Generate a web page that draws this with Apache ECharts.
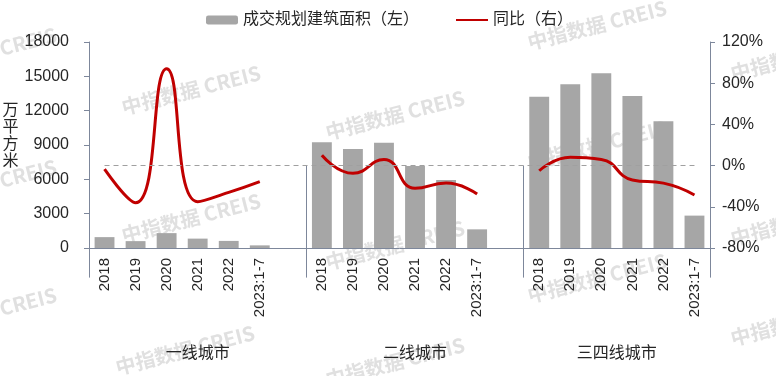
<!DOCTYPE html>
<html lang="zh" style="height: 100%">
<head>
<meta charset="utf-8">
<title>成交规划建筑面积及同比</title>
</head>
<body style="height: 100%; margin: 0; background: #fff">
<div id="container" style="width: 776px; height: 376px"></div>

<script type="text/javascript" src="https://cdn.jsdelivr.net/npm/echarts/dist/echarts.min.js"></script>

<script type="text/javascript">
var years = ['2018', '2019', '2020', '2021', '2022', '2023:1-7'];
var groups = ['一线城市', '二线城市', '三四线城市'];

// 成交规划建筑面积（万平方米）
var area1 = [950, 600, 1300, 820, 620, 230];
var area2 = [9250, 8650, 9200, 7170, 5950, 1630];
var area3 = [13220, 14300, 15270, 13280, 11070, 2830];

// 同比（%）
var yoy1 = [-3.5, -36, 94, -35, -26, -15.5];
var yoy2 = [10, -7.5, 6, -22, -17, -27.5];
var yoy3 = [-5, 8, 6, -14, -17, -28.5];

var leftTicks = { min: 0, max: 18000, step: 3000 };
var rightTicks = { min: -80, max: 120, step: 40 };

// build the category axis with one empty slot after group 1 and group 2
var categories = [].concat(years, [''], years, [''], years);
var areaData = [].concat(area1, [null], area2, [null], area3);
var yoyData = [].concat(yoy1, [null], yoy2, [null], yoy3);
var groupEdges = [0, 7, 14, 20];
var groupCenters = [3.5, 10.5, 17];

var axisColor = '#7d879b';
var textColor = '#262626';
var font = '"Liberation Sans", "Noto Sans CJK SC", sans-serif';

var marks = [
    [-13, 52], [-13, 184], [-13, 312],
    [191, 90], [191, 218], [185, 350],
    [395, 115], [395, 245], [395, 362],
    [597, 25], [597, 145], [597, 278],
    [800, 56], [800, 221], [800, 321]
];

var dom = document.getElementById('container');
var myChart = echarts.init(dom);

var option = {
    animation: false,
    textStyle: { fontFamily: font, color: textColor },
    graphic: marks.map(function (p) {
        return {
            type: 'text',
            x: p[0],
            y: p[1],
            rotation: 0.25,
            z: 0,
            silent: true,
            style: {
                text: '中指数据 CREIS',
                fill: '#e0e0e0',
                font: 'bold 20px "Noto Sans CJK SC", sans-serif',
                align: 'center',
                verticalAlign: 'middle'
            }
        };
    }),
    legend: {
        left: 201,
        top: 7,
        itemWidth: 32,
        itemHeight: 9,
        itemGap: 36,
        textStyle: { fontSize: 16, color: textColor, fontFamily: font },
        data: [
            { name: '成交规划建筑面积（左）' },
            { name: '同比（右）', itemStyle: { opacity: 0 } }
        ]
    },
    grid: { left: 89, right: 66, top: 42, bottom: 128, outerBoundsMode: 'none', containLabel: false },
    xAxis: [
        {
            type: 'category',
            data: categories,
            axisLine: { lineStyle: { color: axisColor, width: 1 } },
            axisTick: { show: false },
            axisLabel: {
                interval: 0,
                rotate: 90,
                margin: 10,
                fontSize: 15,
                color: textColor
            }
        },
        {
            type: 'value',
            position: 'bottom',
            min: 0,
            max: 20,
            axisLine: { show: false },
            splitLine: { show: false },
            axisTick: {
                show: true,
                customValues: groupEdges,
                length: 112,
                lineStyle: { color: axisColor, width: 1 }
            },
            axisLabel: {
                customValues: groupCenters,
                margin: 98,
                fontSize: 16,
                color: textColor,
                formatter: function (v) {
                    return groups[groupCenters.indexOf(v)] || '';
                }
            }
        }
    ],
    yAxis: [
        {
            type: 'value',
            min: leftTicks.min,
            max: leftTicks.max,
            interval: leftTicks.step,
            name: '万\n平\n方\n米\n',
            nameLocation: 'middle',
            nameRotate: 0,
            nameGap: 67,
            nameTextStyle: { fontSize: 16, lineHeight: 17, color: textColor },
            axisLine: { show: true, lineStyle: { color: axisColor } },
            axisTick: { show: true, length: 5, lineStyle: { color: axisColor } },
            axisLabel: {
                fontSize: 16,
                margin: 20,
                color: textColor,
                formatter: function (v) { return String(v); }
            },
            splitLine: { show: false }
        },
        {
            type: 'value',
            min: rightTicks.min,
            max: rightTicks.max,
            interval: rightTicks.step,
            position: 'right',
            axisLine: { show: true, lineStyle: { color: axisColor } },
            axisTick: { show: true, length: 5, lineStyle: { color: axisColor } },
            axisLabel: { fontSize: 16, margin: 12, color: textColor, formatter: '{value}%' },
            splitLine: { show: false }
        }
    ],
    series: [
        {
            name: '成交规划建筑面积（左）',
            type: 'bar',
            xAxisIndex: 0,
            yAxisIndex: 0,
            barWidth: '64%',
            itemStyle: { color: '#a6a6a6' },
            data: areaData,
            z: 2
        },
        {
            name: '同比（右）',
            type: 'line',
            xAxisIndex: 0,
            yAxisIndex: 1,
            smooth: 0.5,
            symbol: 'none',
            connectNulls: false,
            lineStyle: { color: '#c00000', width: 3 },
            itemStyle: { color: '#c00000' },
            data: yoyData,
            z: 4,
            markLine: {
                silent: true,
                symbol: 'none',
                label: { show: false },
                lineStyle: { color: '#a0a0a0', type: [5, 4], width: 1 },
                data: [[
                    { xAxis: 0, yAxis: 0 },
                    { xAxis: categories.length - 1, yAxis: 0 }
                ]]
            }
        }
    ]
};

myChart.setOption(option);
window.addEventListener('resize', myChart.resize);
</script>
</body>
</html>
